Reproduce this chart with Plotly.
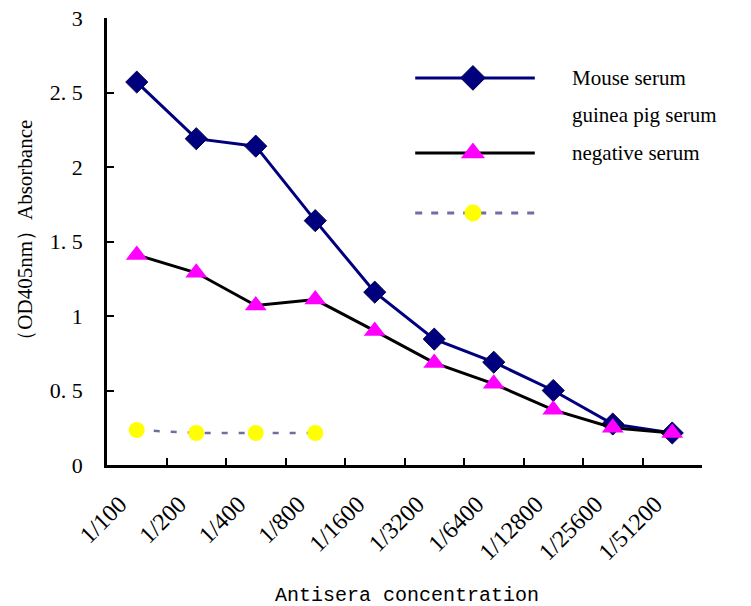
import plotly.graph_objects as go

categories = ["1/100", "1/200", "1/400", "1/800", "1/1600", "1/3200",
              "1/6400", "1/12800", "1/25600", "1/51200"]
mouse_serum = [2.57, 2.19, 2.14, 1.64, 1.16, 0.845, 0.69, 0.50, 0.275, 0.215]
negative_serum = [1.41, 1.29, 1.07, 1.11, 0.90, 0.685, 0.545, 0.37, 0.25, 0.215]
dashed_serum = [0.235, 0.215, 0.215, 0.215]
y_tickvals = [0, 0.5, 1, 1.5, 2, 2.5, 3]
y_ticktext = ["0", "0.\u00a05", "1", "1.\u00a05", "2", "2.\u00a05", "3"]

NAVY = "#00007E"
MAGENTA = "#FF00FF"
YELLOW = "#FFFF00"
DASH = "#6F6F9F"
SERIF = "Liberation Serif, Times New Roman, serif"

fig = go.Figure()

fig.add_trace(go.Scatter(
    x=categories, y=mouse_serum, mode="lines+markers", name="Mouse serum",
    line=dict(color=NAVY, width=3),
    marker=dict(symbol="diamond", size=17, color=NAVY,
                line=dict(color="#000050", width=1)),
    showlegend=False))
fig.add_trace(go.Scatter(
    x=categories, y=negative_serum, mode="lines+markers", name="negative serum",
    line=dict(color="black", width=3),
    marker=dict(symbol="triangle-up", size=19, color=MAGENTA),
    showlegend=False))
fig.add_trace(go.Scatter(
    x=categories[:len(dashed_serum)], y=dashed_serum, mode="lines+markers",
    name="guinea pig serum",
    line=dict(color=DASH, width=2.5, dash="6px,11px"),
    marker=dict(symbol="circle", size=16, color=YELLOW),
    showlegend=False))

# Hand-drawn legend on an overlay axis (0..1 in both directions)
legend_x = [0.518, 0.719]
legend_marker_x = 0.615
legend_rows = [
    dict(y=0.866, line=dict(color=NAVY, width=3),
         marker=dict(symbol="diamond", size=19, color=NAVY,
                     line=dict(color="#000050", width=1))),
    dict(y=0.698, line=dict(color="black", width=3),
         marker=dict(symbol="triangle-up", size=21, color=MAGENTA)),
    dict(y=0.564, line=dict(color=DASH, width=3, dash="7px,9px"),
         marker=dict(symbol="circle", size=17, color=YELLOW)),
]
for row in legend_rows:
    fig.add_trace(go.Scatter(x=legend_x, y=[row["y"]] * 2, mode="lines",
                             line=row["line"], xaxis="x2", yaxis="y2",
                             showlegend=False, hoverinfo="skip"))
    fig.add_trace(go.Scatter(x=[legend_marker_x], y=[row["y"]], mode="markers",
                             marker=row["marker"], xaxis="x2", yaxis="y2",
                             showlegend=False, hoverinfo="skip"))

legend_texts = [("Mouse serum", 0.866), ("guinea pig serum", 0.783),
                ("negative serum", 0.698)]
annotations = []
for txt, yy in legend_texts:
    annotations.append(dict(text=txt, x=0.778, y=yy, xref="paper", yref="paper",
                            xanchor="left", yanchor="middle", showarrow=False,
                            font=dict(family=SERIF, size=21, color="black")))

annotations.append(dict(text="Antisera concentration", x=0.505, y=-0.293,
                        xref="paper", yref="paper", xanchor="center",
                        yanchor="middle", showarrow=False,
                        font=dict(family="Liberation Mono, Courier New, monospace",
                                  size=20, color="black")))
annotations.append(dict(text="（OD405nm）Absorbance", x=-0.138, y=0.515,
                        xref="paper", yref="paper", xanchor="center",
                        yanchor="middle", showarrow=False, textangle=-90,
                        font=dict(family=SERIF, size=21, color="black")))

fig.update_layout(
    width=751, height=606,
    margin=dict(l=107, r=49, t=18, b=141, autoexpand=False),
    paper_bgcolor="white", plot_bgcolor="white",
    showlegend=False,
    annotations=annotations,
    xaxis=dict(type="category", categoryorder="array", categoryarray=categories,
               range=[-0.5, 9.5], tickson="boundaries", ticks="inside",
               ticklen=7, tickwidth=2, tickcolor="black",
               showline=True, linewidth=2.5, linecolor="black",
               showgrid=False, zeroline=False, tickangle=-45,
               ticklabelstandoff=13, ticklabelshift=-17, automargin=False,
               ticklabeloverflow="allow",
               tickfont=dict(family=SERIF, size=24, color="black")),
    yaxis=dict(range=[0, 3], tickvals=y_tickvals, ticktext=y_ticktext,
               ticks="inside", ticklen=7, tickwidth=2, tickcolor="black",
               showline=True, linewidth=2.5, linecolor="black",
               showgrid=False, zeroline=False, ticklabelstandoff=17,
               automargin=False, ticklabeloverflow="allow",
               tickfont=dict(family=SERIF, size=22, color="black")),
    xaxis2=dict(overlaying="x", range=[0, 1], visible=False, fixedrange=True),
    yaxis2=dict(overlaying="y", range=[0, 1], visible=False, fixedrange=True),
)

# Remove the browser's default 8px body margin so the figure fills the window.
fig.write_html("out.html",
               config={"displayModeBar": False},
               post_script="document.body.style.margin='0';"
                           "document.body.style.overflow='hidden';")
